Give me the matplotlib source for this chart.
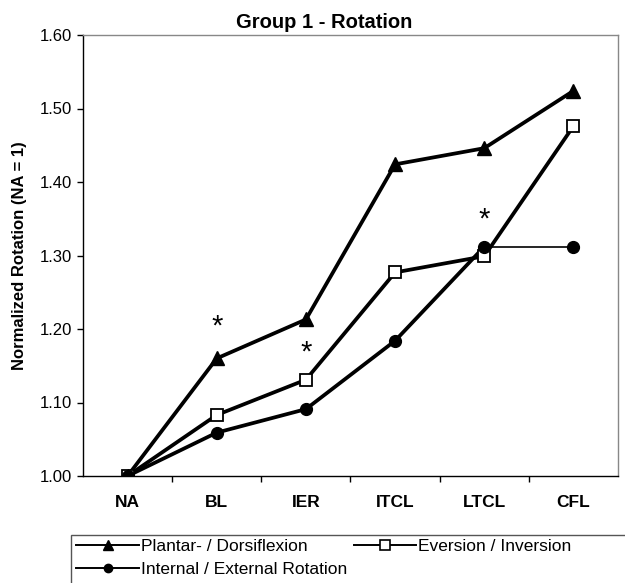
import numpy as np
import matplotlib
matplotlib.use("Agg")
import matplotlib.pyplot as plt
from matplotlib.lines import Line2D
from matplotlib.patches import Rectangle

plt.rcParams['font.family'] = ['Liberation Sans', 'DejaVu Sans']

categories = ['NA', 'BL', 'IER', 'ITCL', 'LTCL', 'CFL']
plantar = [1.00, 1.160, 1.213, 1.424, 1.446, 1.524]
eversion = [1.00, 1.083, 1.131, 1.277, 1.299, 1.476]
internal = [1.00, 1.059, 1.091, 1.184, 1.312, 1.312]
# significance stars (category index, y)
star_x = [1, 2, 4]
star_y = [1.209, 1.173, 1.355]

x = np.arange(len(categories))

fig = plt.figure(figsize=(6.25, 5.83), dpi=100)
ax = fig.add_axes([83/625, 1-476/583, 535/625, 441/583])

lw = 2.7
ax.plot(x, plantar, color='black', lw=lw, marker='^', ms=10, mfc='black', mec='black', zorder=3)
ax.plot(x, eversion, color='black', lw=lw, marker='s', ms=9, mfc='white', mec='black', mew=1.3, zorder=4)
# last segment of internal/external is drawn thin in the original
ax.plot(x[:5], internal[:5], color='black', lw=lw, zorder=3)
ax.plot(x[4:], internal[4:], color='black', lw=1.2, zorder=3)
ax.plot(x, internal, ls='none', marker='o', ms=8.5, mfc='black', mec='black', zorder=5)

for sx, sy in zip(star_x, star_y):
    ax.annotate('*', (sx, sy), xytext=(0, -3), textcoords='offset points',
                fontsize=21, ha='center', va='center')

ax.set_xlim(-0.5, len(categories) - 0.5)
ax.set_ylim(1.0, 1.6)
ax.set_yticks(np.arange(1.0, 1.61, 0.1))
ax.set_yticklabels(['%.2f' % v for v in np.arange(1.0, 1.61, 0.1)], fontsize=12)
ax.set_xticks(x)
ax.set_xticklabels(categories, fontsize=12.5, fontweight='bold')
ax.tick_params(axis='x', which='major', length=0, pad=14)
ax.set_xticks(np.arange(0.5, len(categories) - 0.5, 1), minor=True)
ax.tick_params(axis='x', which='minor', length=4, direction='out', width=1)
ax.tick_params(axis='y', length=4, direction='out', width=1, pad=4)

ax.spines['left'].set_color('black')
ax.spines['bottom'].set_color('black')
ax.spines['top'].set_color('#888888')
ax.spines['right'].set_color('#888888')
for s in ax.spines.values():
    s.set_linewidth(1.0)

ax.set_title('Group 1 - Rotation', fontsize=14.5, fontweight='bold', x=0.45, pad=5)
ax.set_ylabel('Normalized Rotation (NA = 1)', fontsize=12, fontweight='bold', labelpad=9)

handles = [
    Line2D([], [], color='black', lw=1.4, marker='^', ms=7, mfc='black', mec='black'),
    Line2D([], [], color='black', lw=1.4, marker='o', ms=6, mfc='black', mec='black'),
    Line2D([], [], color='black', lw=1.4, marker='s', ms=7, mfc='white', mec='black', mew=1.2),
]
labels = ['Plantar- / Dorsiflexion', 'Internal / External Rotation', 'Eversion / Inversion']
leg = fig.legend(handles, labels, loc='upper left', bbox_to_anchor=(73/625, 1-535/583),
                 ncol=2, frameon=False, fontsize=12.5, handlelength=3.6, handletextpad=0.1,
                 columnspacing=0.4, labelspacing=0.5, borderaxespad=0, borderpad=0.2)

fig.patches.append(Rectangle((71/625, -0.02), 1.0, 0.02 + (583-535)/583, transform=fig.transFigure,
                             fill=False, edgecolor='#555555', lw=1.0))

fig.savefig('out.png', dpi=100)
